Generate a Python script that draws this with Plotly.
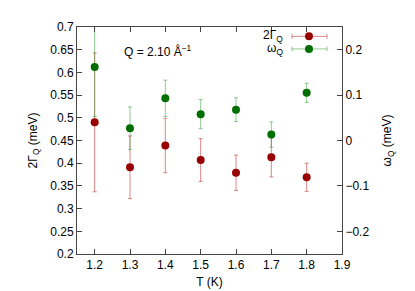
import plotly.graph_objects as go

T = [1.2, 1.3, 1.4, 1.5, 1.6, 1.7, 1.8]
gamma2 = [0.490, 0.391, 0.439, 0.407, 0.379, 0.413, 0.369]
gamma2_err = [0.153, 0.069, 0.060, 0.047, 0.039, 0.043, 0.031]
omega = [0.162, 0.027, 0.093, 0.058, 0.068, 0.013, 0.105]
omega_err = [0.109, 0.047, 0.040, 0.032, 0.026, 0.028, 0.021]

RED = "#990000"
GREEN = "#006e00"
RED_ERR = "rgba(200,70,70,0.65)"
GREEN_ERR = "rgba(40,150,40,0.5)"
FONT = "Liberation Sans, Arial, sans-serif"

fig = go.Figure()
fig.add_trace(go.Scatter(
    x=T, y=gamma2, mode="markers", name="2Γ<sub>Q</sub>",
    marker=dict(color=RED, size=8),
    error_y=dict(type="data", array=gamma2_err, color=RED_ERR, thickness=1, width=2),
    yaxis="y", cliponaxis=True))
fig.add_trace(go.Scatter(
    x=T, y=omega, mode="markers", name="ω<sub>Q</sub>",
    marker=dict(color=GREEN, size=8),
    error_y=dict(type="data", array=omega_err, color=GREEN_ERR, thickness=1, width=2),
    yaxis="y2", cliponaxis=True))

axcol = "#444444"
fig.update_layout(
    width=415, height=291,
    margin=dict(l=69, r=81, t=15, b=41),
    paper_bgcolor="white", plot_bgcolor="white",
    showlegend=False,
    font=dict(family=FONT, size=12, color="black"),
    xaxis=dict(range=[1.15, 1.9], tickvals=[1.2, 1.3, 1.4, 1.5, 1.6, 1.7, 1.8, 1.9],
               ticktext=["1.2", "1.3", "1.4", "1.5", "1.6", "1.7", "1.8", "1.9"],
               ticks="inside", ticklen=5, tickcolor=axcol, showline=True, linecolor=axcol,
               mirror="ticks", showgrid=False, zeroline=False,
               title=dict(text="T (K)", standoff=6, font=dict(size=12))),
    yaxis=dict(range=[0.2, 0.7], dtick=0.05, tickformat="~g",
               ticks="inside", ticklen=5, tickcolor=axcol, showline=True, linecolor=axcol,
               showgrid=False, zeroline=False,
               title=dict(text="2Γ<sub>Q</sub> (meV)", standoff=10, font=dict(size=12))),
    yaxis2=dict(range=[-0.25, 0.25], tickvals=[-0.2, -0.1, 0, 0.1, 0.2],
                ticktext=["−0.2", "−0.1", "0", "0.1", "0.2"],
                overlaying="y", side="right",
                ticks="inside", ticklen=5, tickcolor=axcol, showline=True, linecolor=axcol,
                showgrid=False, zeroline=False,
                title=dict(text="ω<sub>Q</sub> (meV)", standoff=14, font=dict(size=12))),
)

fig.add_annotation(x=0.306, y=0.894, xref="paper", yref="paper",
                   text="Q = 2.10 Å<sup>−1</sup>", showarrow=False,
                   font=dict(size=12), xanchor="center", yanchor="middle")

# manual gnuplot-style key
W = 265.0
H = 235.0
rows = [("2Γ<sub>Q</sub>", RED, RED_ERR, 24.7), ("ω<sub>Q</sub>", GREEN, GREEN_ERR, 37.7)]
for label, mc, ec, ypx in rows:
    yp = 1 - (ypx - 15) / H
    fig.add_annotation(x=(277 - 69) / W, y=yp, xref="paper", yref="paper", text=label,
                       showarrow=False, xanchor="right", yanchor="middle", font=dict(size=12))
    x0 = (284 - 69) / W
    x1 = (319 - 69) / W
    fig.add_shape(type="line", xref="paper", yref="paper", x0=x0, x1=x1, y0=yp, y1=yp,
                  line=dict(color=ec, width=1))
    for xc in (x0, x1):
        fig.add_shape(type="line", xref="paper", yref="paper", x0=xc, x1=xc,
                      y0=yp - 2.5 / H, y1=yp + 2.5 / H, line=dict(color=ec, width=1))
    xm = (301 - 69) / W
    fig.add_shape(type="circle", xref="paper", yref="paper",
                  xsizemode="pixel", ysizemode="pixel", xanchor=xm, yanchor=yp,
                  x0=-4, x1=4, y0=-4, y1=4, fillcolor=mc, line=dict(color=mc, width=0))

fig.write_html("out.html")
